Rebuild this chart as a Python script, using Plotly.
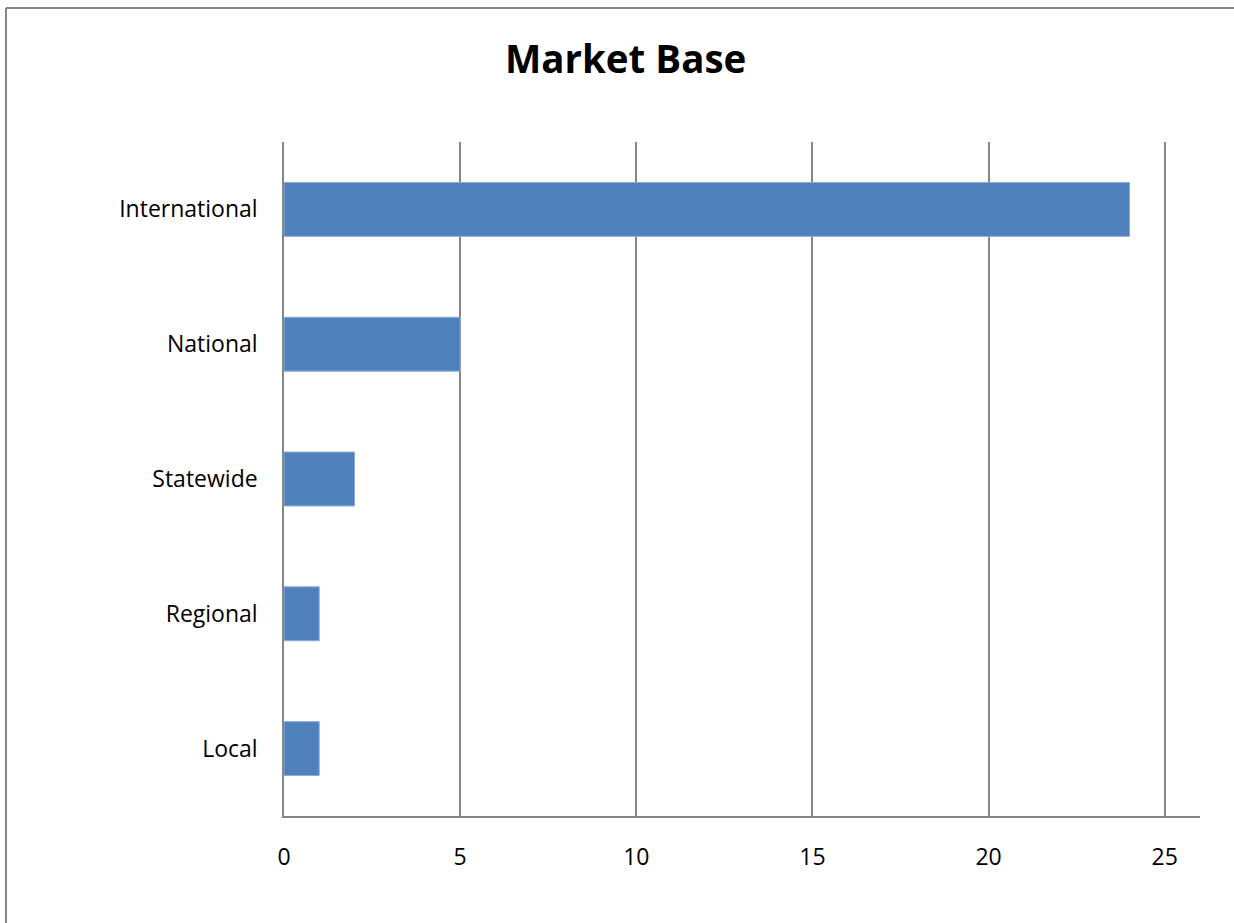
import plotly.graph_objects as go

categories = ["Local", "Regional", "Statewide", "National", "International"]
values = [1, 1, 2, 5, 24]
x_ticks = [0, 5, 10, 15, 20, 25]

GRID = "#868686"
BAR = "#4F81BD"
FONT = "Open Sans"

fig = go.Figure(
    go.Bar(
        y=categories,
        x=values,
        orientation="h",
        marker=dict(color=BAR, line=dict(color="#8EAADB", width=1)),
    )
)

fig.update_layout(
    width=1234,
    height=923,
    margin=dict(l=284, r=34, t=142, b=107),
    paper_bgcolor="white",
    plot_bgcolor="white",
    bargap=0.6,
    showlegend=False,
    font=dict(family=FONT, size=23, color="black"),
    title=dict(
        text="<b>Market Base</b>",
        x=0.507,
        xanchor="center",
        y=0.935,
        yanchor="middle",
        font=dict(family=FONT, size=38.5, color="black"),
    ),
)

fig.update_xaxes(
    range=[0, 26],
    tickvals=x_ticks,
    showgrid=True,
    gridcolor=GRID,
    gridwidth=1.5,
    showline=True,
    linecolor=GRID,
    linewidth=1.5,
    zeroline=False,
    ticks="",
    ticklabelstandoff=20,
)

fig.update_yaxes(
    showgrid=False,
    showline=True,
    linecolor=GRID,
    linewidth=1.5,
    ticks="",
    ticklabelstandoff=20,
)

# Outer chart frame: left and top edges
frame = dict(color=GRID, width=2)
fig.add_shape(type="line", xref="paper", yref="paper",
              x0=-0.3035, x1=-0.3035, y0=-0.25, y1=1.1988, line=frame)
fig.add_shape(type="line", xref="paper", yref="paper",
              x0=-0.3035, x1=1.2, y0=1.1988, y1=1.1988, line=frame)

fig.write_html("out.html")
